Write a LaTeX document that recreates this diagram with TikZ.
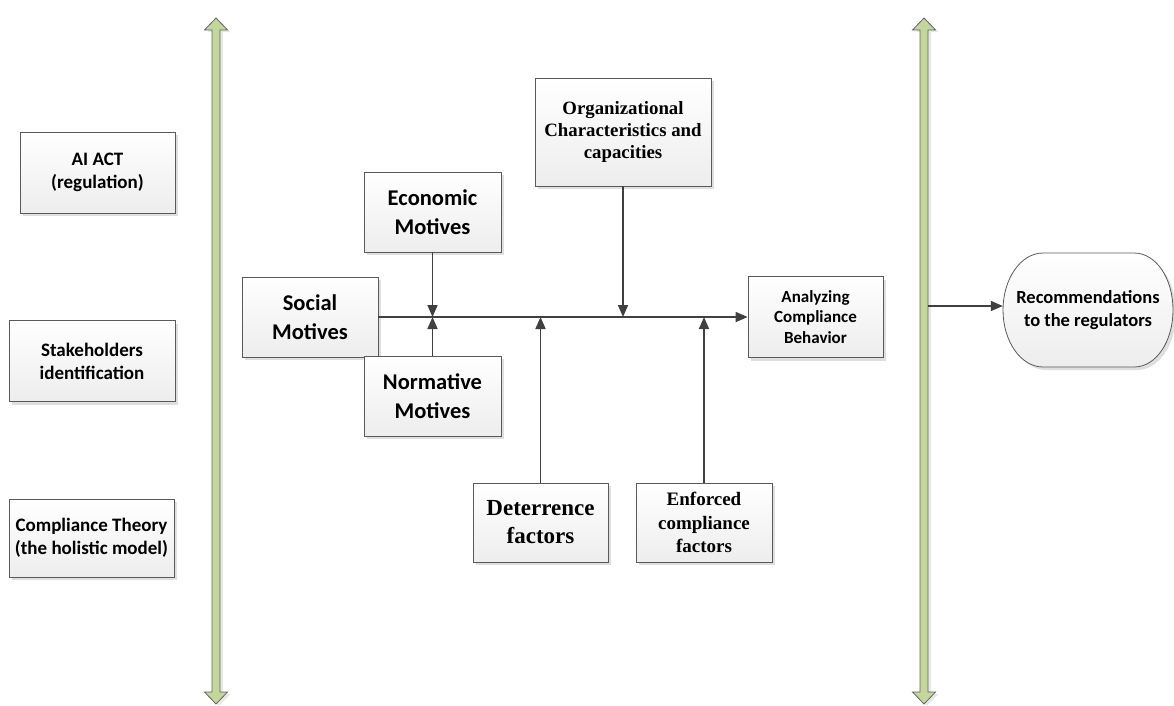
\documentclass[tikz,border=0pt]{standalone}
\usepackage{fontspec}
\setmainfont{Carlito}
\newfontfamily\timesfont{Liberation Serif}
\usetikzlibrary{arrows.meta,shadows}
\definecolor{barfill}{RGB}{195, 214, 155}
\definecolor{barline}{RGB}{100, 100, 100}
\definecolor{linkline}{RGB}{64, 64, 64}
\definecolor{boxline}{RGB}{90, 90, 90}

\begin{document}
\begin{tikzpicture}[x=1pt, y=-1pt,
    box/.style={draw=boxline, thick, top color=white, bottom color=gray!14,
      drop shadow={shadow xshift=3pt, shadow yshift=-3pt, fill=gray!35, opacity=0.7},
      align=center, inner sep=0pt, font=\bfseries},
    flow/.style={draw=linkline, line width=1.7pt, -{Triangle[length=12pt,width=10pt]}},
    bar/.style={draw=barline, fill=barfill, line width=0.8pt,
      drop shadow={shadow xshift=3pt, shadow yshift=-2pt, fill=gray!30, opacity=0.6}}]
  \useasboundingbox (0,0) rectangle (1174,705);

  % Two long double-headed bars
  \foreach \ax in {216, 924}{
    \path[bar] (\ax,18) -- ({\ax+11.5},30) -- ({\ax+4},30) -- ({\ax+4},692)
      -- ({\ax+11.5},692) -- (\ax,704) -- ({\ax-11.5},692) -- ({\ax-4},692)
      -- ({\ax-4},30) -- ({\ax-11.5},30) -- cycle;
  }

  % Inputs on the left
  \node[box, minimum width=155pt, minimum height=81pt, font=\bfseries\fontsize{19}{23}\selectfont]
    (aiact) at (97.5,172.5) {AI ACT\\(regulation)};
  \node[box, minimum width=166pt, minimum height=81pt, font=\bfseries\fontsize{19}{23}\selectfont]
    (stake) at (92,361) {Stakeholders\\identification};
  \node[box, minimum width=165pt, minimum height=78pt, font=\bfseries\fontsize{19}{23}\selectfont]
    (theory) at (91.5,538) {Compliance Theory\\(the holistic model)};

  % Motives
  \node[box, minimum width=137pt, minimum height=80pt, font=\bfseries\fontsize{22.5}{29}\selectfont]
    (eco) at (432.5,212) {Economic\\Motives};
  \node[box, minimum width=136pt, minimum height=80pt, font=\bfseries\fontsize{22.5}{29}\selectfont]
    (soc) at (310,317) {Social\\Motives};
  \node[box, minimum width=137pt, minimum height=80pt, font=\bfseries\fontsize{22.5}{29}\selectfont]
    (nor) at (432.5,396) {Normative\\Motives};

  % Factors
  \node[box, minimum width=176pt, minimum height=108pt, font=\timesfont\bfseries\fontsize{18.8}{22}\selectfont]
    (org) at (623,132) {Organizational\\Characteristics and\\capacities};
  \node[box, minimum width=135pt, minimum height=79pt, font=\timesfont\bfseries\fontsize{23}{28}\selectfont]
    (det) at (540.5,522.5) {Deterrence\\factors};
  \node[box, minimum width=136pt, minimum height=79pt, font=\timesfont\bfseries\fontsize{19}{23.5}\selectfont]
    (enf) at (704,522.5) {Enforced\\compliance\\factors};

  % Outcome
  \node[box, minimum width=135pt, minimum height=81pt, font=\bfseries\fontsize{17}{20.5}\selectfont]
    (ana) at (815.5,317) {Analyzing\\Compliance\\Behavior};

  % Terminal with flattened round ends
  \path[box] (1043,253) .. controls (1020.9,253) and (1003,278.5) .. (1003,310)
    .. controls (1003,341.5) and (1020.9,367) .. (1043,367) -- (1134,367)
    .. controls (1156.1,367) and (1173,341.5) .. (1173,310)
    .. controls (1173,278.5) and (1156.1,253) .. (1134,253) -- cycle;
  \node[align=center, inner sep=0pt, minimum width=170pt, minimum height=114pt,
    font=\bfseries\fontsize{18.5}{22.5}\selectfont]
    (rec) at (1088,310) {Recommendations\\to the regulators};

  % Links
  \draw[flow] (soc.east) -- (soc.east -| ana.west);
  \draw[flow] (eco.south) -- (eco.south |- soc.east);
  \draw[flow] (nor.north) -- (nor.north |- soc.east);
  \draw[flow] (org.south) -- (org.south |- soc.east);
  \draw[flow] (det.north) -- (det.north |- soc.east);
  \draw[flow] (enf.north) -- (enf.north |- soc.east);
  \coordinate (barout) at (928,306);
  \draw[flow, line width=1.4pt] (barout) -- (barout -| rec.west);
\end{tikzpicture}
\end{document}
